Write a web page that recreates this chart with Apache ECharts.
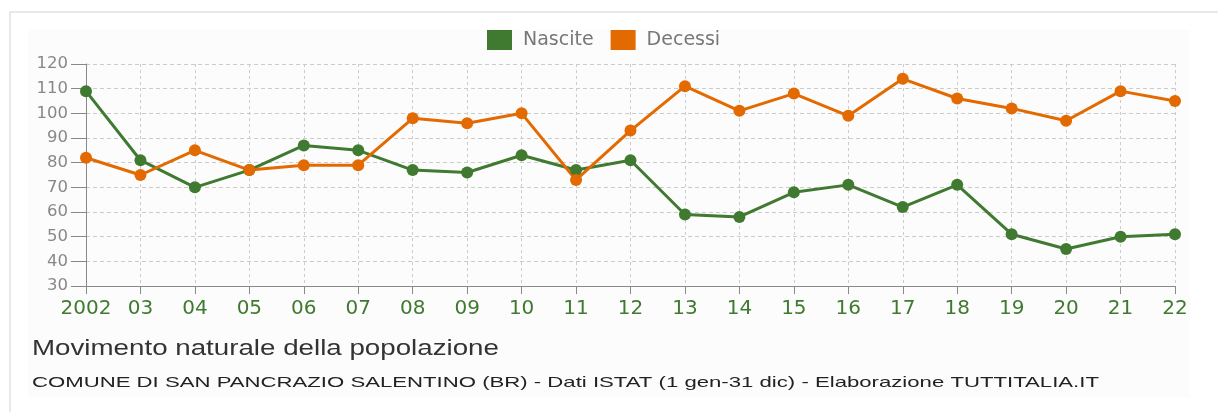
<!DOCTYPE html>
<html>
<head>
<meta charset="utf-8">
<script src="https://cdn.jsdelivr.net/npm/echarts@6/dist/echarts.min.js"></script>
<style>
html,body{margin:0;padding:0;background:#fff;}
#chart{width:1218px;height:412px;}
</style>
</head>
<body>
<div id="chart"></div>
<script>
// anni (etichette asse x)
var anni = ['2002','03','04','05','06','07','08','09','10','11','12','13','14','15','16','17','18','19','20','21','22'];
var nascite = [109, 81, 70, 77, 87, 85, 77, 76, 83, 77, 81, 59, 58, 68, 71, 62, 71, 51, 45, 50, 51];
var decessi = [82, 75, 85, 77, 79, 79, 98, 96, 100, 73, 93, 111, 101, 108, 99, 114, 106, 102, 97, 109, 105];
var yMin = 30, yMax = 120, yStep = 10;

var titolo = 'Movimento naturale della popolazione';
var sottotitolo = 'COMUNE DI SAN PANCRAZIO SALENTINO (BR) - Dati ISTAT (1 gen-31 dic) - Elaborazione TUTTITALIA.IT';

var verde = '#3f7a30';
var arancio = '#e36a00';
var font = 'DejaVu Sans, Verdana, sans-serif';

var myChart = echarts.init(document.getElementById('chart'));
var option = {
	animation: false,
	textStyle: {fontFamily: font},
	graphic: [
		{type: 'rect', shape: {x: 10, y: 12, width: 1220, height: 420}, style: {fill: '#fff', stroke: '#e2e2e2', lineWidth: 1.5}, z: -10},
		{type: 'rect', shape: {x: 28, y: 30, width: 1162, height: 368}, style: {fill: '#fcfcfc'}, z: -9},
		// titolo e sottotitolo, allargati in orizzontale come nell'originale
		{
			type: 'text', x: 32, y: 349, scaleX: 1.26,
			style: {text: titolo, font: '22px Liberation Sans, Arial, sans-serif', fill: '#333', verticalAlign: 'middle'}
		},
		{
			type: 'text', x: 32, y: 383, scaleX: 1.477,
			style: {text: sottotitolo, font: '15px Liberation Sans, Arial, sans-serif', fill: '#222', verticalAlign: 'middle'}
		}
	],
	legend: {
		top: 30, left: 487, padding: 0,
		itemWidth: 25, itemHeight: 20, itemGap: 17,
		icon: 'rect',
		textStyle: {fontSize: 19, color: '#777', fontFamily: font, padding: [0, 0, 0, 6]},
		data: ['Nascite', 'Decessi']
	},
	grid: {left: 86, right: 43, top: 64, bottom: 126},
	xAxis: {
		type: 'category',
		data: anni,
		boundaryGap: false,
		axisLine: {lineStyle: {color: '#888'}},
		axisTick: {show: true, length: 8, interval: 0, lineStyle: {color: '#888'}},
		axisLabel: {color: verde, fontSize: 20, margin: 13, interval: 0},
		splitLine: {show: true, interval: 0, lineStyle: {color: '#ccc', type: [3, 3]}}
	},
	yAxis: {
		type: 'value',
		min: yMin, max: yMax, interval: yStep,
		axisLine: {show: true, lineStyle: {color: '#888'}},
		axisTick: {show: true, length: 15, lineStyle: {color: '#888'}},
		axisLabel: {color: '#888', fontSize: 16.5, margin: 18},
		splitLine: {show: true, lineStyle: {color: '#ccc', type: [4, 3]}}
	},
	series: [
		{
			name: 'Nascite', type: 'line', data: nascite,
			symbol: 'circle', symbolSize: 12,
			lineStyle: {color: verde, width: 3},
			itemStyle: {color: verde}
		},
		{
			name: 'Decessi', type: 'line', data: decessi,
			symbol: 'circle', symbolSize: 12,
			lineStyle: {color: arancio, width: 3},
			itemStyle: {color: arancio}
		}
	]
};
myChart.setOption(option);
</script>
</body>
</html>
